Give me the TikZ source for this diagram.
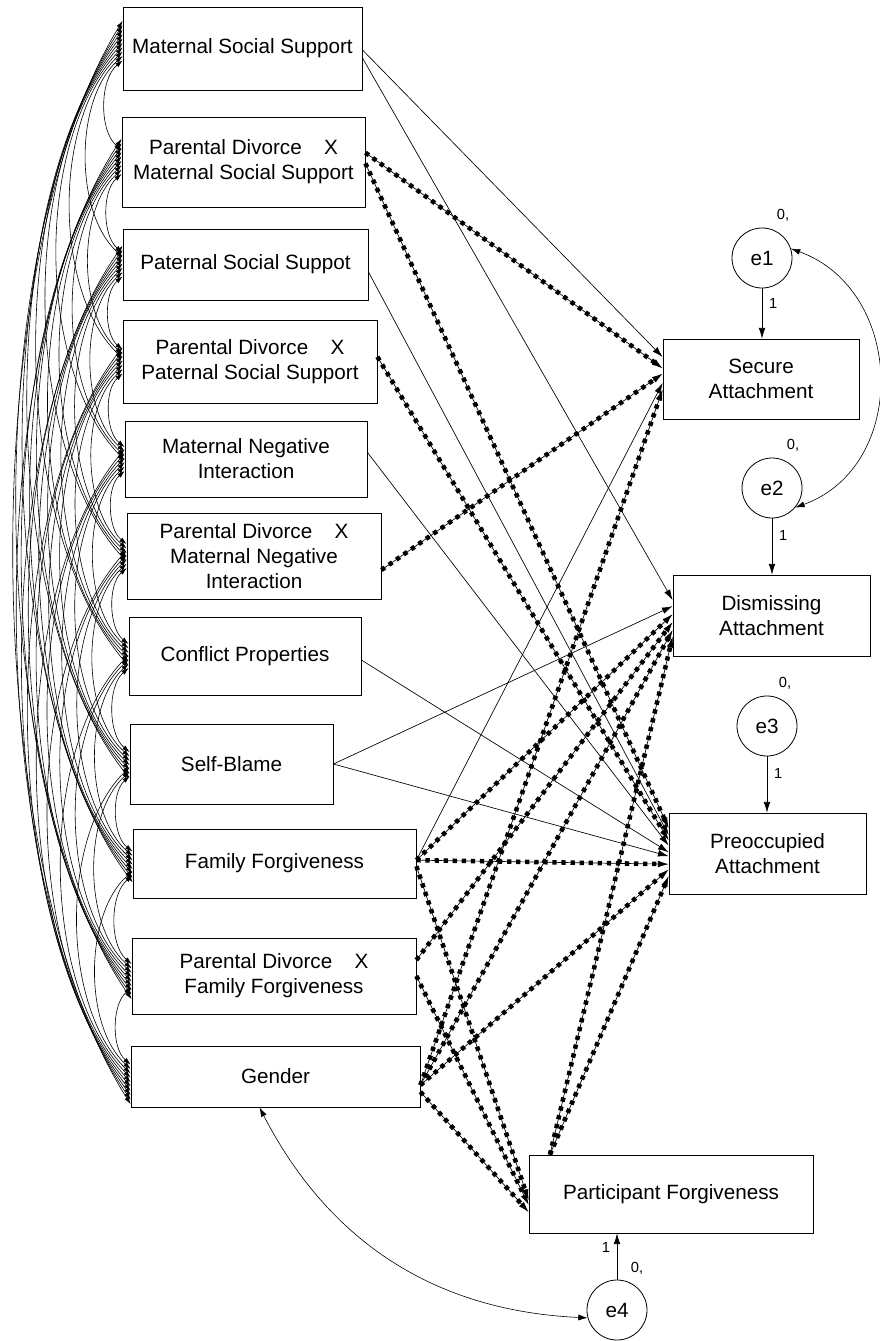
\documentclass[tikz,border=0pt]{standalone}
\usepackage{fontspec}
\setmainfont{Liberation Sans}
\usetikzlibrary{arrows.meta}
\tikzset{
  var/.style={draw, line width=0.6pt, rectangle, inner sep=0pt, align=center, font=\fontsize{15.5}{18.75}\selectfont},
  err/.style={draw, line width=0.6pt, circle, minimum size=45pt, inner sep=0pt, font=\fontsize{15.5}{18.75}\selectfont},
  lbl/.style={font=\fontsize{11}{13}\selectfont, inner sep=0pt},
  reg/.style={-{Latex[length=8pt,width=5pt]}, line width=0.5pt},
  sig/.style={reg, preaction={draw, -, line width=3.4pt, dash pattern=on 3.2pt off 3.6pt, shorten >=7pt}},
  cov/.style={{Latex[length=5.5pt,width=3.6pt]}-{Latex[length=5.5pt,width=3.6pt]}, line width=0.45pt},
  covbig/.style={{Latex[length=7pt,width=4.5pt]}-{Latex[length=7pt,width=4.5pt]}, line width=0.45pt}
}
\begin{document}
\begin{tikzpicture}[x=0.75pt, y=0.75pt]
\useasboundingbox (0,0) rectangle (879,-1341);

% exogenous variables
\node[var, minimum width=179.25pt, minimum height=62.25pt] (b1) at (242.5,-48.5) {Maternal Social Support};
\node[var, minimum width=182.25pt, minimum height=67.5pt] (b2) at (243.5,-162) {Parental Divorce\hspace{0.8em} X\\Maternal Social Support};
\node[var, minimum width=183.75pt, minimum height=53.25pt] (b3) at (245.5,-264.5) {Paternal Social Suppot};
\node[var, minimum width=190.5pt, minimum height=62.25pt] (b4) at (250,-361.5) {Parental Divorce\hspace{0.8em} X\\Paternal Social Support};
\node[var, minimum width=181.5pt, minimum height=57pt] (b5) at (246,-459) {Maternal Negative\\Interaction};
\node[var, minimum width=190.5pt, minimum height=64.5pt] (b6) at (254,-556) {Parental Divorce\hspace{0.8em} X\\Maternal Negative\\Interaction};
\node[var, minimum width=174pt, minimum height=58.5pt] (b7) at (245,-656) {Conflict Properties};
\node[var, minimum width=152.25pt, minimum height=60pt] (b8) at (231.5,-764) {Self-Blame};
\node[var, minimum width=212.25pt, minimum height=51.75pt] (b9) at (274.5,-863.5) {Family Forgiveness};
\node[var, minimum width=213pt, minimum height=57pt] (b10) at (274,-976) {Parental Divorce\hspace{0.8em} X\\Family Forgiveness};
\node[var, minimum width=216.75pt, minimum height=45.75pt] (b11) at (275.5,-1076.5) {Gender};

% endogenous variables
\node[var, minimum width=147pt, minimum height=60pt] (sec) at (761,-379) {Secure\\Attachment};
\node[var, minimum width=147.75pt, minimum height=60.75pt] (dis) at (771.5,-615.5) {Dismissing\\Attachment};
\node[var, minimum width=147.75pt, minimum height=60.75pt] (pre) at (767.5,-853.5) {Preoccupied\\Attachment};
\node[var, minimum width=213pt, minimum height=58.5pt] (pf) at (671,-1194) {Participant Forgiveness};

% errors
\node[err] (e1) at (762,-258) {e1};
\node[err] (e2) at (772,-488) {e2};
\node[err] (e3) at (767,-726) {e3};
\node[err] (e4) at (617,-1310) {e4};
\node[lbl] (z1) at (783,-215) {0,};
\node[lbl] (z2) at (793,-445) {0,};
\node[lbl] (z3) at (785,-683) {0,};
\node[lbl] (z4) at (637,-1268) {0,};

\draw[reg] (e1) -- (e1 |- sec.north) node[lbl, pos=0.3, right=5pt] {1};
\draw[reg] (e2) -- (e2 |- dis.north) node[lbl, pos=0.3, right=5pt] {1};
\draw[reg] (e3) -- (e3 |- pre.north) node[lbl, pos=0.3, right=5pt] {1};
\draw[reg] (e4) -- (e4 |- pf.south) node[lbl, pos=0.7, left=5pt] {1};

% covariances among exogenous variables
\foreach \i in {1,...,10}{
  \pgfmathtruncatemacro\first{\i+1}
  \foreach \j in {\first,...,11}{
    \pgfmathsetmacro\gap{\j-\i}
    \pgfmathsetmacro\bnd{52-2*\gap}
    \pgfmathsetmacro\lse{0.87-0.02*\gap}
    \pgfmathsetmacro\offa{-9+(\gap-1)*3.3}
    \pgfmathsetmacro\offb{9-(\gap-1)*3.3}
    \draw[cov] ([yshift=\offa pt]b\i.west) to[bend right=\bnd, looseness=\lse] ([yshift=\offb pt]b\j.west);
  }
}
\draw[covbig] (e1.18) to[out=-20, in=20, looseness=1.2] (e2.-40);
\draw[covbig] ([xshift=-12pt]b11.south) to[bend right=30] (e4.195);

% paths to secure attachment
\draw[reg] ([yshift=-1pt]b1.east) -- ([yshift=16.5pt]sec.west);
\draw[sig] ([yshift=7pt]b2.east) -- ([yshift=8pt]sec.west);
\draw[sig] ([yshift=-10.5pt]b6.east) -- ([yshift=4pt]sec.west);
\draw[reg] ([yshift=2.5pt]b9.east) -- ([yshift=-3pt]sec.west);
\draw[sig] ([yshift=-6.5pt]b11.east) -- ([yshift=-8pt]sec.west);
% paths to dismissing attachment
\draw[reg] ([yshift=-7pt]b1.east) -- ([yshift=11.5pt]dis.west);
\draw[reg] (b8.east) -- ([yshift=7pt]dis.west);
\draw[sig] ([yshift=2.5pt]b9.east) -- ([yshift=1pt]dis.west);
\draw[sig] ([yshift=12pt]b10.east) -- ([yshift=-5pt]dis.west);
\draw[sig] ([yshift=-6.5pt]b11.east) -- ([yshift=-11pt]dis.west);
\draw[sig] ([xshift=16pt]pf.north west) -- ([yshift=-16pt]dis.west);
% paths to preoccupied attachment
\draw[sig] ([yshift=-1pt]b2.east) -- ([yshift=19pt]pre.west);
\draw[reg] ([yshift=-5.5pt]b3.east) -- ([yshift=14pt]pre.west);
\draw[sig] ([yshift=3.5pt]b4.east) -- ([yshift=10pt]pre.west);
\draw[reg] ([yshift=5pt]b5.east) -- ([yshift=6pt]pre.west);
\draw[reg] ([yshift=-3pt]b7.east) -- ([yshift=1pt]pre.west);
\draw[reg] (b8.east) -- ([yshift=-2pt]pre.west);
\draw[sig] ([yshift=2.5pt]b9.east) -- ([yshift=-8pt]pre.west);
\draw[sig] ([yshift=-6.5pt]b11.east) -- ([yshift=-12pt]pre.west);
\draw[sig] ([xshift=16pt]pf.north west) -- ([yshift=-17pt]pre.west);
% paths to participant forgiveness
\draw[sig] ([yshift=-2pt]b9.east) -- ([yshift=-4.5pt]pf.west);
\draw[sig] (b10.east) -- ([yshift=-8pt]pf.west);
\draw[sig] ([yshift=-11.5pt]b11.east) -- ([yshift=-13.5pt]pf.west);
\end{tikzpicture}
\end{document}
